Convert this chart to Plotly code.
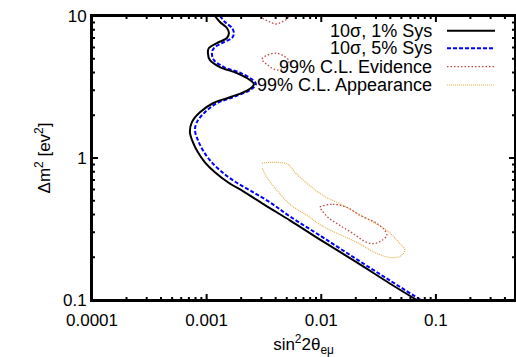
import plotly.graph_objects as go

# 10 sigma, 1% systematics
sys1_x = [0.001181, 0.001306, 0.001503, 0.001565, 0.001503, 0.001230, 0.001047, 0.001026,
          0.001069, 0.001306, 0.001837, 0.002385, 0.002585, 0.002291, 0.001596, 0.001135,
          0.000874, 0.000744, 0.000715, 0.000760, 0.000840, 0.000966, 0.001181, 0.001533,
          0.002157, 0.003355, 0.005324, 0.01033, 0.02044, 0.03963, 0.06816]
sys1_y = [10, 9.07, 8.23, 7.59, 7.00, 6.45, 5.95, 5.48, 4.89, 4.37, 3.96, 3.54, 3.31, 3.01,
          2.68, 2.43, 2.10, 1.79, 1.52, 1.29, 1.098, 0.933, 0.793, 0.6745, 0.5734, 0.4566,
          0.364, 0.2586, 0.1839, 0.1307, 0.1]

# 10 sigma, 5% systematics
sys5_x = [0.001306, 0.001444, 0.001662, 0.001730, 0.001662, 0.001359, 0.001158, 0.001112,
          0.001158, 0.001415, 0.001991, 0.002533, 0.002690, 0.002385, 0.001696, 0.001230,
          0.000966, 0.000823, 0.000791, 0.000840, 0.000928, 0.001069, 0.001306, 0.001696,
          0.002385, 0.003563, 0.005324, 0.01033, 0.02044, 0.03963, 0.07386]
sys5_y = [10, 9.07, 8.23, 7.59, 7.00, 6.45, 5.95, 5.48, 4.89, 4.37, 3.96, 3.54, 3.31, 3.01,
          2.68, 2.43, 2.10, 1.79, 1.570, 1.334, 1.134, 0.964, 0.820, 0.697, 0.592, 0.4873,
          0.388, 0.2760, 0.1931, 0.1373, 0.1]

# 99% C.L. evidence contours (three islands)
ev_top_x = [0.002915, 0.003159, 0.003563, 0.004020, 0.004534, 0.005012, 0.005219]
ev_top_y = [10, 9.52, 9.07, 8.78, 9.07, 9.52, 10]
ev_mid_x = [0.003034, 0.003422, 0.004020, 0.004720, 0.005219, 0.004817, 0.004101, 0.003422, 0.003034]
ev_mid_y = [4.97, 5.31, 5.48, 5.22, 4.81, 4.37, 4.16, 4.51, 4.97]
ev_low_x = [0.009723, 0.01262, 0.01672, 0.02171, 0.03053, 0.03585, 0.03731, 0.03375, 0.02933,
            0.02497, 0.01886, 0.01453, 0.01142, 0.01012, 0.009723]
ev_low_y = [0.4494, 0.4718, 0.4494, 0.3947, 0.3465, 0.3093, 0.2851, 0.2629, 0.2504, 0.2544,
            0.2945, 0.3354, 0.3820, 0.4279, 0.4494]

# 99% C.L. appearance contour
ap_x = [0.003034, 0.003784, 0.005114, 0.005886, 0.007490, 0.01033, 0.01543, 0.02653, 0.03731,
        0.04845, 0.05357, 0.04845, 0.03963, 0.03053, 0.02044, 0.01033, 0.007490, 0.005324,
        0.004101, 0.003355, 0.003034]
ap_y = [0.918, 0.933, 0.903, 0.793, 0.664, 0.546, 0.4642, 0.364, 0.3093, 0.2504, 0.2235,
        0.2027, 0.1995, 0.2128, 0.2544, 0.3301, 0.3947, 0.4718, 0.592, 0.731, 0.860]

legend_names = ["10σ, 1% Sys", "10σ, 5% Sys", "99% C.L. Evidence", "99% C.L. Appearance"]

x_ticks = [0.0001, 0.001, 0.01, 0.1]
x_tick_text = ["0.0001", "0.001", "0.01", "0.1"]
x_minor = [m * d for d in [0.0001, 0.001, 0.01, 0.1] for m in range(2, 10)]
y_ticks = [0.1, 1, 10]
y_tick_text = ["0.1", "1", "10"]
y_minor = [m * d for d in [0.1, 1] for m in range(2, 10)]

X_RANGE = [-4, -0.31]
Y_RANGE = [-1, 1]

BLACK = "#000000"
BLUE = "#0000ff"
RED = "#c04848"
ORANGE = "#e6b04a"

styles = [
    dict(color=BLACK, width=2, dash="solid"),
    dict(color=BLUE, width=2, dash="4px,2px"),
    dict(color=RED, width=1.3, dash="1.5px,2px"),
    dict(color=ORANGE, width=1.2, dash="1px,1px"),
]

L, R, T, B = 92, 1, 16, 57
W, H = 516, 357
pw, ph = W - L - R, H - T - B

fig = go.Figure()
fig.add_trace(go.Scatter(x=ap_x, y=ap_y, mode="lines", line=dict(styles[3], shape="spline"),
                         showlegend=False))
for ex, ey in [(ev_top_x, ev_top_y), (ev_mid_x, ev_mid_y), (ev_low_x, ev_low_y)]:
    fig.add_trace(go.Scatter(x=ex, y=ey, mode="lines", line=dict(styles[2], shape="spline"),
                             showlegend=False))
fig.add_trace(go.Scatter(x=sys5_x, y=sys5_y, mode="lines", line=dict(styles[1], shape="spline"),
                         showlegend=False))
fig.add_trace(go.Scatter(x=sys1_x, y=sys1_y, mode="lines", line=dict(styles[0], shape="spline"),
                         showlegend=False))

# frame and inward ticks (gnuplot style), placed through the log scales
x_lo, x_hi = 10 ** X_RANGE[0], 10 ** X_RANGE[1]
y_lo, y_hi = 10 ** Y_RANGE[0], 10 ** Y_RANGE[1]
dyl = (Y_RANGE[1] - Y_RANGE[0]) / ph
dxl = (X_RANGE[1] - X_RANGE[0]) / pw
for xs, ys in [([x_lo, x_hi], [y_lo, y_lo]), ([x_lo, x_hi], [y_hi, y_hi]),
               ([x_lo, x_lo], [y_lo, y_hi]), ([x_hi, x_hi], [y_lo, y_hi])]:
    fig.add_trace(go.Scatter(x=xs, y=ys, mode="lines", line=dict(color=BLACK, width=2),
                             cliponaxis=False, showlegend=False, hoverinfo="skip"))
tick_x, tick_y = [], []
for vals, ln in [(x_ticks, 6), (x_minor, 3)]:
    for v in vals:
        if x_lo < v < x_hi:
            tick_x += [v, v, None, v, v, None]
            tick_y += [y_lo, 10 ** (Y_RANGE[0] + ln * dyl), None,
                       y_hi, 10 ** (Y_RANGE[1] - ln * dyl), None]
for vals, ln in [(y_ticks, 6), (y_minor, 3)]:
    for v in vals:
        if y_lo < v < y_hi:
            tick_y += [v, v, None, v, v, None]
            tick_x += [x_lo, 10 ** (X_RANGE[0] + ln * dxl), None,
                       x_hi, 10 ** (X_RANGE[1] - ln * dxl), None]
fig.add_trace(go.Scatter(x=tick_x, y=tick_y, mode="lines", line=dict(color=BLACK, width=2),
                         connectgaps=False, showlegend=False, hoverinfo="skip"))

def px(xp):
    return (xp - L) / pw
def py(yp):
    return 1 - (yp - T) / ph

# manual gnuplot-style legend (text right-aligned, sample to the right)
rows = [30.7, 48.3, 66.7, 85.0]
for name, st, ry in zip(legend_names, styles, rows):
    fig.add_annotation(x=px(434), y=py(ry), xref="paper", yref="paper", text=name,
                       showarrow=False, xanchor="right", yanchor="middle",
                       font=dict(size=18, color="black"))
    fig.add_shape(type="line", xref="paper", yref="paper", x0=px(447), x1=px(495),
                  y0=py(ry), y1=py(ry), line=st)
# plot frame as a paper shape as well
fig.add_shape(type="rect", xref="paper", yref="paper", x0=0, x1=1, y0=0, y1=1,
              line=dict(color=BLACK, width=2), layer="above")

axis_common = dict(
    type="log", showgrid=False, zeroline=False, showline=True, linecolor=BLACK, linewidth=2,
    mirror=True, ticks="", tickfont=dict(size=17, color="black"), automargin=False,
    tickmode="array",
)

fig.update_layout(
    xaxis=dict(axis_common, range=X_RANGE, tickvals=x_ticks, ticktext=x_tick_text, ticklabelstandoff=4,
               title=dict(text="sin<sup>2</sup>2θ<sub>eμ</sub>", font=dict(size=17), standoff=14)),
    yaxis=dict(axis_common, range=Y_RANGE, tickvals=y_ticks, ticktext=y_tick_text,
               title=dict(text="Δm<sup>2</sup> [ev<sup>2</sup>]", font=dict(size=17), standoff=8)),
    width=W, height=H, margin=dict(l=L, r=R, t=T, b=B),
    paper_bgcolor="white", plot_bgcolor="white",
    font=dict(family="Liberation Sans, Arial, sans-serif", color="black"),
    showlegend=False,
)

fig.write_html("out.html", config={"displayModeBar": False},
               post_script="document.body.style.margin='0';")
